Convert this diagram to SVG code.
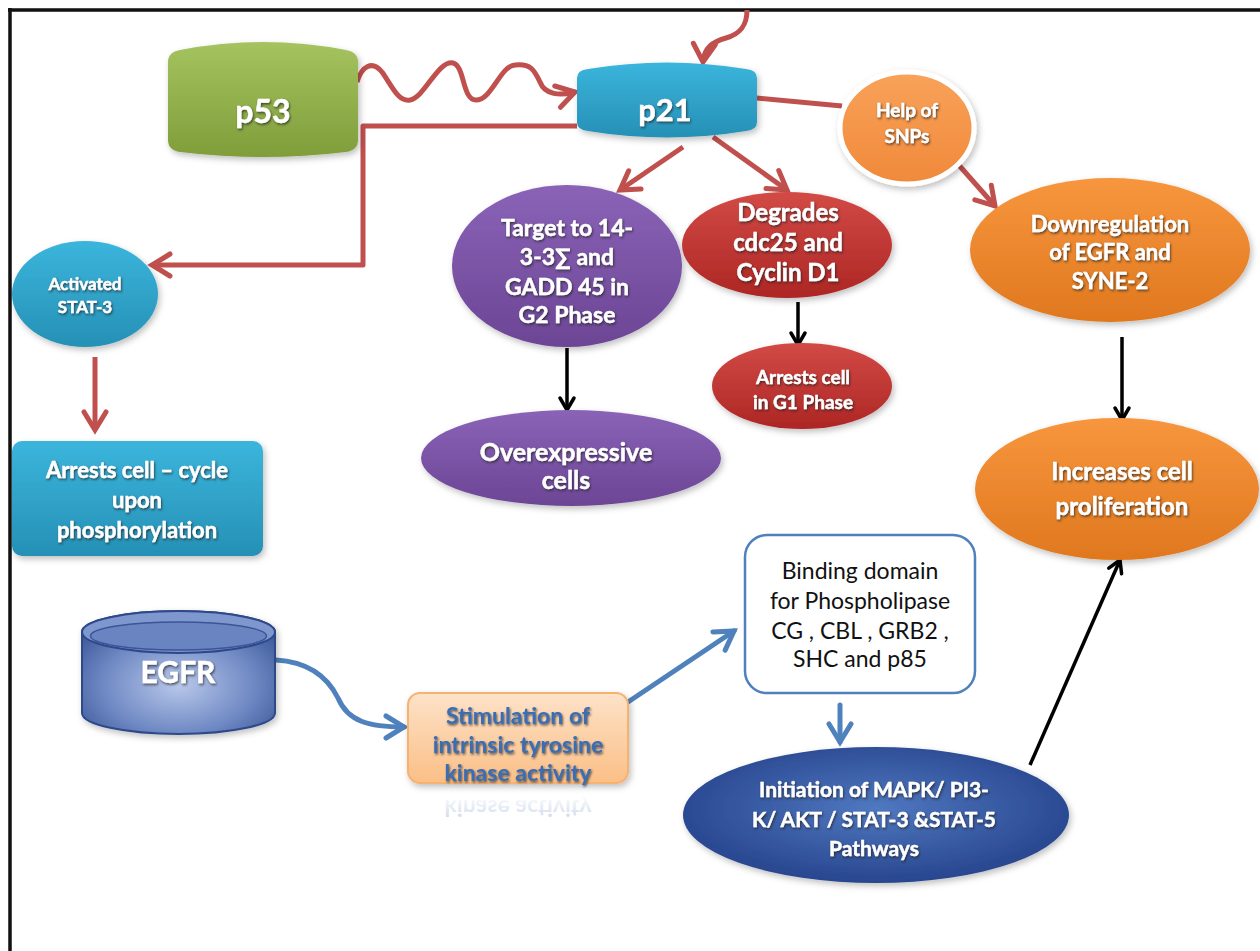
<svg xmlns="http://www.w3.org/2000/svg" width="1260" height="951" viewBox="0 0 1260 951">
<defs>
<style>
.t{font-family:Lato,"Open Sans","Liberation Sans",sans-serif;font-weight:bold;fill:#fff;text-anchor:middle;filter:url(#ts);stroke:#fff;stroke-width:0.4}
.k{font-family:Lato,"Open Sans","Liberation Sans",sans-serif;fill:#111;text-anchor:middle}
.red{stroke:#c0504d;stroke-width:5;fill:none;stroke-linejoin:round}
.blk{stroke:#000;stroke-width:3.5;fill:none}
.blu{stroke:#4f81bd;stroke-width:5;fill:none;stroke-linecap:round}
</style>
<filter id="ts" x="-10%" y="-20%" width="130%" height="150%"><feDropShadow dx="1" dy="1.5" stdDeviation="1" flood-color="#222" flood-opacity="0.75"/></filter>
<filter id="sh" x="-10%" y="-10%" width="130%" height="130%"><feDropShadow dx="2" dy="3" stdDeviation="3" flood-color="#000" flood-opacity="0.25"/></filter>
<marker id="hr" markerUnits="userSpaceOnUse" viewBox="0 0 28 28" markerWidth="28" markerHeight="28" refX="23" refY="14" orient="auto"><path d="M5,3 L23,14 L5,25" fill="none" stroke="#c0504d" stroke-width="5" stroke-linecap="round" stroke-linejoin="miter"/></marker>
<marker id="hk" markerUnits="userSpaceOnUse" viewBox="0 0 20 20" markerWidth="20" markerHeight="20" refX="16" refY="10" orient="auto"><path d="M4,3 L16,10 L4,17" fill="none" stroke="#000" stroke-width="3.5" stroke-linecap="round"/></marker>
<marker id="hb" markerUnits="userSpaceOnUse" viewBox="0 0 28 28" markerWidth="28" markerHeight="28" refX="23" refY="14" orient="auto"><path d="M5,3 L23,14 L5,25" fill="none" stroke="#4f81bd" stroke-width="5" stroke-linecap="round"/></marker>
<linearGradient id="gGreen" x1="0" y1="0" x2="0" y2="1"><stop offset="0" stop-color="#a5c35f"/><stop offset="1" stop-color="#7f9e3a"/></linearGradient>
<linearGradient id="gCyan" x1="0" y1="0" x2="0" y2="1"><stop offset="0" stop-color="#3bb5dc"/><stop offset="1" stop-color="#2690b5"/></linearGradient>
<linearGradient id="gPurple" x1="0" y1="0" x2="0" y2="1"><stop offset="0" stop-color="#8a63b7"/><stop offset="1" stop-color="#6c4595"/></linearGradient>
<linearGradient id="gRed" x1="0" y1="0" x2="0" y2="1"><stop offset="0" stop-color="#d24a45"/><stop offset="1" stop-color="#ad2624"/></linearGradient>
<linearGradient id="gOrange" x1="0" y1="0" x2="0" y2="1"><stop offset="0" stop-color="#f7963e"/><stop offset="1" stop-color="#e0781e"/></linearGradient>
<linearGradient id="gSnp" x1="0" y1="0" x2="0" y2="1"><stop offset="0" stop-color="#f9a25a"/><stop offset="1" stop-color="#f0893a"/></linearGradient>
<linearGradient id="gPeach" x1="0" y1="0" x2="0" y2="1"><stop offset="0" stop-color="#fde2c8"/><stop offset="1" stop-color="#fbbf86"/></linearGradient>
<linearGradient id="gFade" x1="0" y1="0" x2="0" y2="1"><stop offset="0" stop-color="#3a6db4" stop-opacity="0.3"/><stop offset="1" stop-color="#3a6db4" stop-opacity="0"/></linearGradient>
<radialGradient id="gNavy" cx="0.5" cy="0.45" r="0.6"><stop offset="0" stop-color="#4f78c0"/><stop offset="1" stop-color="#24418a"/></radialGradient>
<radialGradient id="gEgfr" cx="0.5" cy="0.6" r="0.65"><stop offset="0" stop-color="#b9c8ea"/><stop offset="0.6" stop-color="#6f89c4"/><stop offset="1" stop-color="#3a5597"/></radialGradient>
</defs>
<rect width="1260" height="951" fill="#fff"/>
<path d="M8,10 H1260 M10,8 V951" stroke="#111" stroke-width="3.5" fill="none"/>

<g id="connectors">
<path class="red" d="M357,82 C362,66 372,60 382,72 C392,86 398,102 410,100 C425,97 438,60 453,63 C465,66 462,100 476,100 C492,100 500,66 515,65 C532,63 535,72 540,82 C545,95 560,96 575,92" marker-end="url(#hr)"/>
<path class="red" d="M747,10 C747,26 740,34 726,38 C712,42 704,48 703,62" marker-end="url(#hr)"/>
<path class="red" d="M577,126 H363 V265 H152" marker-end="url(#hr)"/>
<path class="red" d="M757,98 L842,106"/>
<path class="red" d="M957,163 L995,206" marker-end="url(#hr)"/>
<path class="red" d="M683,147 L620,190" marker-end="url(#hr)"/>
<path class="red" d="M713,137 L787,190" marker-end="url(#hr)"/>
<path class="red" d="M95,357 V430" marker-end="url(#hr)"/>
<path class="blk" d="M567,348 V410" marker-end="url(#hk)"/>
<path class="blk" d="M798,302 V345" marker-end="url(#hk)"/>
<path class="blk" d="M1122,337 V420" marker-end="url(#hk)"/>
<path class="blk" d="M1030,765 L1120,560" marker-end="url(#hk)"/>
<path class="blu" d="M276,660 C310,662 328,678 338,698 C348,722 370,727 404,727" marker-end="url(#hb)"/>
<path class="blu" d="M628,702 L734,631" marker-end="url(#hb)"/>
<path class="blu" d="M840,705 V742" marker-end="url(#hb)"/>
</g>

<g id="p53" filter="url(#sh)">
<path d="M168,62 Q168,52 180,50 Q263,34 346,50 Q358,52 358,62 L358,140 Q358,150 346,152 Q263,162 180,152 Q168,150 168,140 Z" fill="url(#gGreen)"/>
<text class="t" x="263" y="123" font-size="32">p53</text>
</g>

<g id="p21" filter="url(#sh)">
<path d="M577,78 Q577,70 588,69 Q667,56 746,69 Q757,70 757,78 L757,122 Q757,130 746,131 Q667,144 588,131 Q577,130 577,122 Z" fill="url(#gCyan)"/>
<text class="t" x="665" y="121" font-size="31">p21</text>
</g>

<g id="snps">
<ellipse cx="907" cy="128" rx="67" ry="56" fill="url(#gSnp)" stroke="#fff" stroke-width="5" filter="url(#sh)"/>
<text class="t" x="907" y="117" font-size="19">Help of</text>
<text class="t" x="907" y="143" font-size="19">SNPs</text>
</g>

<g id="stat3" filter="url(#sh)">
<ellipse cx="85" cy="294" rx="73" ry="53" fill="url(#gCyan)"/>
<text class="t" x="85" y="290" font-size="17">Activated</text>
<text class="t" x="85" y="313" font-size="17">STAT-3</text>
</g>

<g id="arrests-cycle" filter="url(#sh)">
<rect x="12" y="441" width="251" height="115" rx="10" fill="url(#gCyan)"/>
<text class="t" x="137" y="478" font-size="22">Arrests cell – cycle</text>
<text class="t" x="137" y="508" font-size="22">upon</text>
<text class="t" x="137" y="538" font-size="22">phosphorylation</text>
</g>

<g id="target" filter="url(#sh)">
<ellipse cx="567" cy="266" rx="115" ry="81" fill="url(#gPurple)"/>
<text class="t" x="567" y="236" font-size="23">Target to 14-</text>
<text class="t" x="567" y="265" font-size="23">3-3∑ and</text>
<text class="t" x="567" y="295" font-size="23">GADD 45 in</text>
<text class="t" x="567" y="323" font-size="23">G2  Phase</text>
</g>

<g id="degrades" filter="url(#sh)">
<ellipse cx="787" cy="245" rx="105" ry="53" fill="url(#gRed)"/>
<text class="t" x="788" y="221" font-size="24">Degrades</text>
<text class="t" x="788" y="251" font-size="24">cdc25 and</text>
<text class="t" x="788" y="281" font-size="24">Cyclin D1</text>
</g>

<g id="arrests-g1" filter="url(#sh)">
<ellipse cx="802" cy="386" rx="90" ry="43" fill="url(#gRed)"/>
<text class="t" x="803" y="384" font-size="19">Arrests cell</text>
<text class="t" x="803" y="409" font-size="19">in G1 Phase</text>
</g>

<g id="overexpressive" filter="url(#sh)">
<ellipse cx="571" cy="458" rx="150" ry="48" fill="url(#gPurple)"/>
<text class="t" x="566" y="461" font-size="25">Overexpressive</text>
<text class="t" x="566" y="489" font-size="25">cells</text>
</g>

<g id="downregulation" filter="url(#sh)">
<ellipse cx="1110" cy="250" rx="140" ry="72" fill="url(#gOrange)"/>
<text class="t" x="1110" y="232" font-size="22">Downregulation</text>
<text class="t" x="1110" y="260" font-size="22">of  EGFR and</text>
<text class="t" x="1110" y="289" font-size="22">SYNE-2</text>
</g>

<g id="increases" filter="url(#sh)">
<ellipse cx="1117" cy="489" rx="142" ry="71" fill="url(#gOrange)"/>
<text class="t" x="1122" y="480" font-size="24">Increases  cell</text>
<text class="t" x="1122" y="515" font-size="24">proliferation</text>
</g>

<g id="egfr" filter="url(#sh)">
<path d="M82,632 L82,713 A96.5,21 0 0 0 275,713 L275,632 A96.5,21 0 0 0 82,632 Z" fill="url(#gEgfr)" stroke="#2f4a8a" stroke-width="2"/>
<ellipse cx="178.5" cy="632" rx="96.5" ry="21" fill="#7f97cf" stroke="#2f4a8a" stroke-width="2"/>
<ellipse cx="178.5" cy="636" rx="88" ry="14" fill="#6a84c2" stroke="#3a5597" stroke-width="1.5"/>
<text class="t" x="178" y="683" font-size="30">EGFR</text>
</g>

<g id="stimulation">
<rect x="408" y="693" width="220" height="90" rx="12" fill="url(#gPeach)" stroke="#f5b271" stroke-width="2" filter="url(#sh)"/>
<g font-family="Lato,'Open Sans','Liberation Sans',sans-serif" font-weight="bold" font-size="23" fill="#3a6db4" text-anchor="middle" filter="url(#ts)">
<text x="518" y="724">Stimulation of</text>
<text x="518" y="753">intrinsic tyrosine</text>
<text x="518" y="781">kinase activity</text>
</g>
<text x="518" y="-800" transform="scale(1,-1)" font-family="Lato,'Open Sans','Liberation Sans',sans-serif" font-weight="bold" font-size="23" fill="url(#gFade)" text-anchor="middle">kinase activity</text>
</g>

<g id="binding">
<rect x="745" y="535" width="230" height="158" rx="22" fill="#fff" stroke="#4f81bd" stroke-width="2.5"/>
<text class="k" x="860" y="579" font-size="23">Binding domain</text>
<text class="k" x="860" y="609" font-size="23">for  Phospholipase</text>
<text class="k" x="860" y="639" font-size="23">CG , CBL ,  GRB2 ,</text>
<text class="k" x="860" y="667" font-size="23">SHC and p85</text>
</g>

<g id="mapk" filter="url(#sh)">
<ellipse cx="876" cy="815" rx="193" ry="68" fill="url(#gNavy)"/>
<text class="t" x="874" y="797" font-size="21">Initiation of MAPK/ PI3-</text>
<text class="t" x="874" y="827" font-size="21">K/ AKT / STAT-3 &amp;STAT-5</text>
<text class="t" x="874" y="856" font-size="21">Pathways</text>
</g>
</svg>
